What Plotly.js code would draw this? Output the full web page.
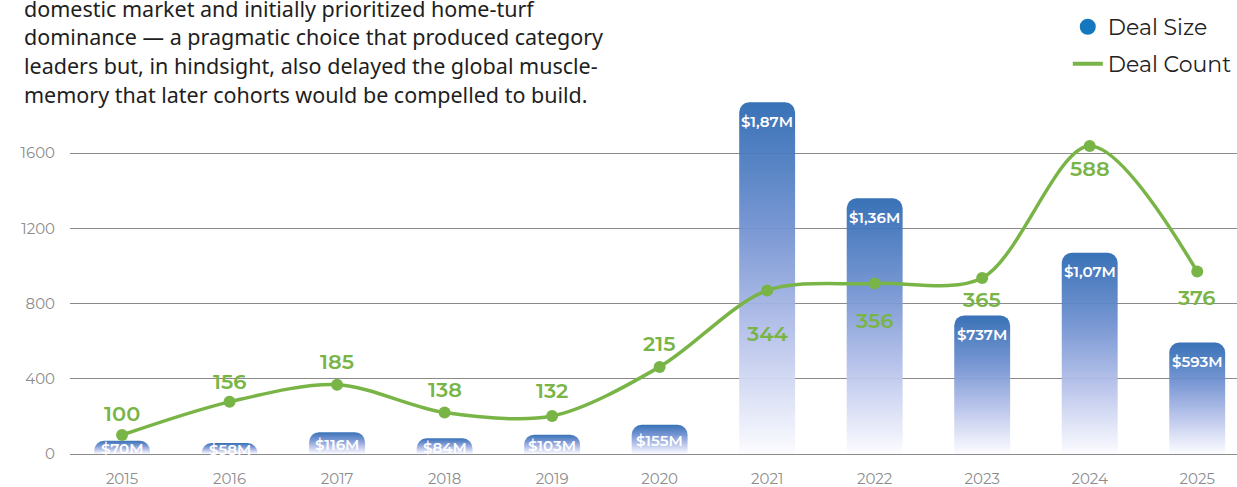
<!DOCTYPE html>
<html>
<head>
<meta charset="utf-8">
<script src="https://cdn.plot.ly/plotly-3.0.1.min.js"></script>
<style>
html,body{margin:0;padding:0;background:#fff;}
#chart{width:1237px;height:487px;}
</style>
</head>
<body>
<div id="chart"></div>
<script>
// ---- data ----
const years = ['2015','2016','2017','2018','2019','2020','2021','2022','2023','2024','2025'];
const dealSize = [70, 58, 116, 84, 103, 155, 1870, 1360, 737, 1070, 593];          // $M
const dealSizeLabels = ['$70M','$58M','$116M','$84M','$103M','$155M','$1,87M','$1,36M','$737M','$1,07M','$593M'];
const dealCount = [100, 156, 185, 138, 132, 215, 344, 356, 365, 588, 376];
const yTicks = [0, 400, 800, 1200, 1600];
const introLines = [
  'domestic market and initially prioritized home-turf',
  'dominance — a pragmatic choice that produced category',
  'leaders but, in hindsight, also delayed the global muscle-',
  'memory that later cohorts would be compelled to build.'
];
// label offsets (px, style only): positive = above the point
const countLabelShift = [21, 20, 23, 23, 26, 23, -43, -37, -21, -23, -26];

const FONT = 'Montserrat, Inter, "Noto Sans", sans-serif';
const GREEN = '#79b447';

const traces = [
  {
    type: 'bar', x: years, y: dealSize, name: 'Deal Size', showlegend: false,
    width: 0.52,
    marker: {color: '#4f7fc4', cornerradius: 10, opacity: 0.94, line: {width: 0}},
    hoverinfo: 'skip'
  },
  {
    type: 'scatter', mode: 'lines+markers', x: years, y: dealCount, yaxis: 'y2',
    name: 'Deal Count', showlegend: false,
    line: {color: GREEN, width: 3.5, shape: 'spline', smoothing: 0.9},
    marker: {color: GREEN, size: 12},
    cliponaxis: false
  },
  {
    type: 'scatter', mode: 'markers', x: [null], y: [null], name: 'Deal Size',
    legend: 'legend', marker: {color: '#1578be', size: 16, symbol: 'circle'}
  },
  {
    type: 'scatter', mode: 'lines', x: [null], y: [null], name: 'Deal Count',
    legend: 'legend2', line: {color: GREEN, width: 4}
  }
];

const annotations = [];
// intro paragraph, one annotation per line (28.7px line pitch)
introLines.forEach(function (line, k) {
  annotations.push({
    xref: 'paper', yref: 'paper', x: -0.0411, y: (454 - (8 + 28.7 * k)) / 359,
    xanchor: 'left', yanchor: 'middle', align: 'left', showarrow: false,
    text: line,
    font: {family: '"Noto Sans", sans-serif', size: 21.5, color: '#1e1e1e'}
  });
});

// bar value labels (inside, near the top; centered in very short bars)
// x given as category index (category names look numeric)
years.forEach(function (yr, i) {
  const tall = dealSize[i] > 300;
  annotations.push({
    xref: 'x', yref: 'y', x: i, y: tall ? dealSize[i] : dealSize[i] / 2,
    yshift: tall ? -19 : -1, yanchor: 'middle', xanchor: 'center',
    showarrow: false, text: dealSizeLabels[i],
    font: {family: FONT, size: 15, color: '#ffffff', weight: 600}
  });
});
// deal count labels
years.forEach(function (yr, i) {
  annotations.push({
    xref: 'x', yref: 'y2', x: i, y: dealCount[i],
    yshift: countLabelShift[i], yanchor: 'middle', xanchor: 'center',
    showarrow: false, text: String(dealCount[i]),
    font: {family: FONT, size: 21, color: GREEN, weight: 600}
  });
});

const layout = {
  width: 1237, height: 487,
  margin: {l: 70, r: 0, t: 95, b: 33},
  paper_bgcolor: '#ffffff', plot_bgcolor: '#ffffff',
  font: {family: FONT, color: '#888888'},
  showlegend: true,
  xaxis: {
    type: 'category', range: [-0.484, 10.37],
    showgrid: false, showline: false, zeroline: false, ticks: '',
    tickfont: {family: FONT, size: 15, color: '#8c8c8c'},
    ticklabelstandoff: 14, fixedrange: true
  },
  yaxis: {
    range: [0, 1909], tickvals: yTicks,
    showgrid: true, gridcolor: '#8a8a8a', gridwidth: 1,
    zeroline: true, zerolinecolor: '#8a8a8a', zerolinewidth: 1,
    showline: false, ticks: '',
    tickfont: {family: FONT, size: 15, color: '#8c8c8c'},
    ticklabelstandoff: 14
  },
  yaxis2: {
    overlaying: 'y', side: 'right', range: [67.9, 674.1],
    showgrid: false, zeroline: false, showticklabels: false, showline: false, ticks: ''
  },
  legend: {
    x: 0.855, y: 1.248, xanchor: 'left', yanchor: 'top',
    bgcolor: 'rgba(0,0,0,0)', font: {family: FONT, size: 22, color: '#222222'},
    itemclick: false
  },
  legend2: {
    x: 0.855, y: 1.145, xanchor: 'left', yanchor: 'top',
    bgcolor: 'rgba(0,0,0,0)', font: {family: FONT, size: 22, color: '#222222'},
    itemclick: false
  },
  annotations: annotations
};

Plotly.newPlot('chart', traces, layout, {displayModeBar: false, staticPlot: true}).then(function (gd) {
  const svg = gd.querySelector('.main-svg');
  const NS = 'http://www.w3.org/2000/svg';
  let defs = svg.querySelector('defs');
  if (!defs) { defs = document.createElementNS(NS, 'defs'); svg.insertBefore(defs, svg.firstChild); }
  const grad = document.createElementNS(NS, 'linearGradient');
  grad.setAttribute('id', 'barGrad');
  grad.setAttribute('x1', '0'); grad.setAttribute('y1', '0');
  grad.setAttribute('x2', '0'); grad.setAttribute('y2', '1');
  [['0', '#2c69b2'], ['0.35', '#6f90d0'], ['0.65', '#b3bfe9'], ['1', '#fcfcff']].forEach(function (s) {
    const st = document.createElementNS(NS, 'stop');
    st.setAttribute('offset', s[0]); st.setAttribute('stop-color', s[1]);
    grad.appendChild(st);
  });
  defs.appendChild(grad);
  gd.querySelectorAll('.trace.bars .point path').forEach(function (p) {
    p.style.fill = 'url(#barGrad)';
  });
});
</script>
</body>
</html>
